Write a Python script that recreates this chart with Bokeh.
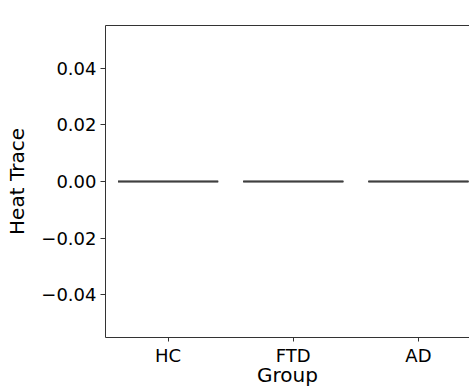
from bokeh.plotting import figure
from bokeh.models import Range1d, FixedTicker, LinearAxis, CustomJSTickFormatter, ColumnDataSource
from bokeh.embed import file_html
from bokeh.resources import INLINE

groups = ["HC", "FTD", "AD"]
q1 = [0.0, 0.0, 0.0]
median = [0.0, 0.0, 0.0]
q3 = [0.0, 0.0, 0.0]
y_ticks = [-0.04, -0.02, 0.0, 0.02, 0.04]

FONT = "DejaVu Sans"
xs = list(range(len(groups)))
box_w = 0.8

src = ColumnDataSource(dict(
    x0=[x - box_w / 2 for x in xs],
    x1=[x + box_w / 2 for x in xs],
    q1=q1, med=median, q3=q3,
))

p = figure(width=469, height=389, output_backend="svg", toolbar_location=None,
           x_range=Range1d(-0.5, 2.408), y_range=Range1d(-0.055, 0.055),
           min_border_left=105, min_border_right=0, min_border_top=25, min_border_bottom=51)
p.outline_line_color = None
p.grid.visible = False
p.background_fill_color = "white"
p.border_fill_color = "white"

p.segment(x0="x0", y0="q1", x1="x1", y1="q1", source=src, line_color="#3f3f3f", line_width=1.5)
p.segment(x0="x0", y0="q3", x1="x1", y1="q3", source=src, line_color="#3f3f3f", line_width=1.5)
p.segment(x0="x0", y0="med", x1="x1", y1="med", source=src, line_color="#3f3f3f", line_width=1.5)

xa = p.xaxis[0]
xa.ticker = FixedTicker(ticks=xs)
xa.major_label_overrides = {i: g for i, g in enumerate(groups)}
xa.minor_tick_line_color = None
xa.major_tick_out = 4
xa.major_tick_in = 0
xa.major_label_standoff = 3
xa.major_label_text_font = FONT
xa.major_label_text_font_size = "18px"
xa.major_label_text_color = "black"
xa.axis_line_color = "#333333"
xa.major_tick_line_color = "#333333"
xa.axis_label = "Group"
xa.axis_label_text_font = FONT
xa.axis_label_text_font_size = "20px"
xa.axis_label_text_font_style = "normal"
xa.axis_label_text_color = "black"
xa.axis_label_standoff = -6

ya = p.yaxis[0]
ya.ticker = FixedTicker(ticks=y_ticks)
ya.formatter = CustomJSTickFormatter(code="return (tick < -1e-9 ? '\u2212' : '') + Math.abs(tick).toFixed(2);")
ya.minor_tick_line_color = None
ya.major_tick_out = 5
ya.major_tick_in = 0
ya.major_label_standoff = 4
ya.major_label_text_font = FONT
ya.major_label_text_font_size = "18px"
ya.major_label_text_color = "black"
ya.axis_label = "Heat Trace"
ya.axis_label_text_font = FONT
ya.axis_label_text_font_size = "20px"
ya.axis_label_text_font_style = "normal"
ya.axis_label_text_color = "black"
ya.axis_label_standoff = 9
ya.axis_line_color = "#333333"
ya.major_tick_line_color = "#333333"

top = LinearAxis(ticker=FixedTicker(ticks=[]), axis_line_color="#333333",
                 major_tick_line_color=None, minor_tick_line_color=None,
                 major_label_text_font_size="0px")
p.add_layout(top, "above")

open("out.html", "w").write(file_html(p, INLINE))
